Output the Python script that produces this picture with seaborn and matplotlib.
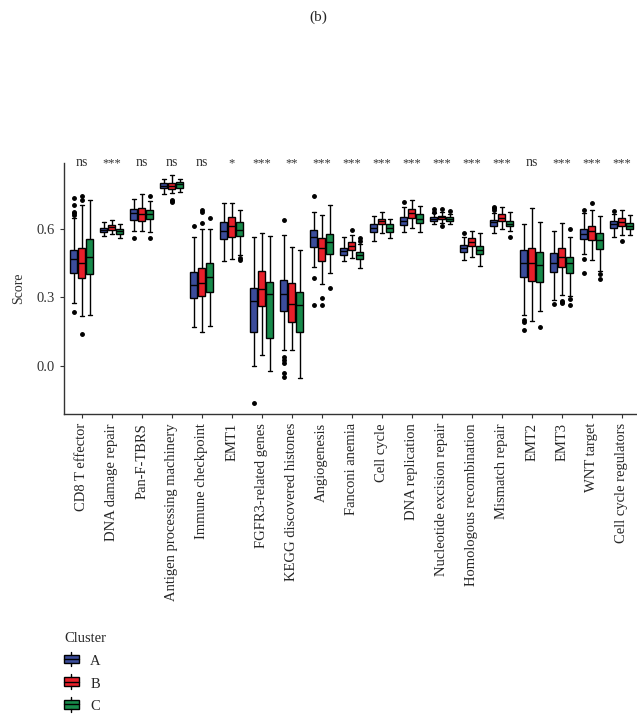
import numpy as np
import pandas as pd
import matplotlib
matplotlib.use("Agg")
import matplotlib.pyplot as plt
import seaborn as sns
from matplotlib.legend_handler import HandlerBase
from matplotlib.patches import Rectangle
from matplotlib.lines import Line2D

categories = ["CD8 T effector", "DNA damage repair", "Pan-F-TBRS",
              "Antigen processing machinery", "Immune checkpoint", "EMT1",
              "FGFR3-related genes", "KEGG discovered histones", "Angiogenesis",
              "Fanconi anemia", "Cell cycle", "DNA replication",
              "Nucleotide excision repair", "Homologous recombination",
              "Mismatch repair", "EMT2", "EMT3", "WNT target",
              "Cell cycle regulators"]
signif = ["ns", "***", "ns", "ns", "ns", "*", "***", "**", "***", "***",
          "***", "***", "***", "***", "***", "ns", "***", "***", "***"]
clusters = ["A", "B", "C"]

# (whisker low, q1, median, q3, whisker high)
a_stats = [(0.276, 0.407, 0.467, 0.507, 0.645), (0.566, 0.584, 0.593, 0.603, 0.628),
           (0.591, 0.638, 0.667, 0.686, 0.730), (0.752, 0.777, 0.788, 0.799, 0.818),
           (0.168, 0.298, 0.353, 0.409, 0.565), (0.460, 0.555, 0.590, 0.628, 0.711),
           (-0.001, 0.149, 0.282, 0.342, 0.562), (0.069, 0.241, 0.314, 0.375, 0.573),
           (0.434, 0.521, 0.565, 0.594, 0.672), (0.460, 0.485, 0.502, 0.517, 0.562),
           (0.546, 0.587, 0.603, 0.619, 0.655), (0.587, 0.616, 0.635, 0.653, 0.696),
           (0.619, 0.635, 0.642, 0.650, 0.667), (0.463, 0.496, 0.514, 0.528, 0.562),
           (0.580, 0.612, 0.628, 0.638, 0.667), (0.222, 0.387, 0.451, 0.507, 0.620),
           (0.288, 0.409, 0.451, 0.492, 0.590), (0.490, 0.555, 0.577, 0.601, 0.667),
           (0.565, 0.604, 0.620, 0.632, 0.665)]
b_stats = [(0.219, 0.385, 0.448, 0.514, 0.705), (0.577, 0.596, 0.606, 0.615, 0.637),
           (0.588, 0.636, 0.664, 0.691, 0.750), (0.758, 0.774, 0.787, 0.800, 0.835),
           (0.146, 0.304, 0.364, 0.426, 0.601), (0.467, 0.565, 0.613, 0.653, 0.711),
           (0.047, 0.263, 0.336, 0.415, 0.580), (0.069, 0.193, 0.269, 0.361, 0.518),
           (0.358, 0.457, 0.517, 0.561, 0.660), (0.470, 0.505, 0.523, 0.540, 0.572),
           (0.582, 0.619, 0.632, 0.644, 0.672), (0.604, 0.648, 0.667, 0.686, 0.726),
           (0.626, 0.641, 0.650, 0.657, 0.674), (0.474, 0.524, 0.543, 0.559, 0.591),
           (0.597, 0.634, 0.648, 0.663, 0.696), (0.197, 0.369, 0.451, 0.514, 0.689),
           (0.310, 0.431, 0.477, 0.514, 0.623), (0.463, 0.550, 0.590, 0.612, 0.682),
           (0.572, 0.612, 0.631, 0.648, 0.682)]
c_stats = [(0.222, 0.401, 0.474, 0.556, 0.726), (0.559, 0.578, 0.588, 0.599, 0.620),
           (0.587, 0.641, 0.663, 0.682, 0.723), (0.759, 0.780, 0.794, 0.803, 0.820),
           (0.174, 0.321, 0.390, 0.448, 0.601), (0.485, 0.570, 0.594, 0.631, 0.682),
           (-0.023, 0.120, 0.314, 0.365, 0.568), (-0.052, 0.146, 0.264, 0.324, 0.507),
           (0.404, 0.488, 0.543, 0.578, 0.704), (0.429, 0.467, 0.483, 0.498, 0.533),
           (0.561, 0.587, 0.604, 0.619, 0.641), (0.587, 0.623, 0.642, 0.663, 0.701),
           (0.619, 0.634, 0.642, 0.650, 0.664), (0.436, 0.489, 0.509, 0.526, 0.580),
           (0.588, 0.610, 0.620, 0.635, 0.672), (0.241, 0.368, 0.441, 0.496, 0.628),
           (0.305, 0.407, 0.448, 0.477, 0.562), (0.415, 0.511, 0.550, 0.580, 0.655),
           (0.572, 0.597, 0.612, 0.626, 0.660)]

# outlying points per category
a_out = [[0.234, 0.660, 0.667, 0.675, 0.704, 0.733], [], [0.561], [],
         [0.612], [], [-0.165], [-0.050, -0.033, 0.010, 0.025, 0.039, 0.638],
         [0.264, 0.384, 0.745], [], [], [0.715], [0.675, 0.685], [0.582],
         [0.682, 0.689, 0.696], [0.156, 0.193, 0.200], [0.269], [0.407, 0.467, 0.682],
         [0.679]]
b_out = [[0.140, 0.726, 0.743], [], [], [0.717, 0.722, 0.727],
         [0.626, 0.675, 0.682], [], [], [], [0.264, 0.295], [0.596], [], [],
         [0.612, 0.685], [], [], [], [0.273, 0.278, 0.285], [0.714], [0.547]]
c_out = [[], [], [0.561, 0.745], [], [0.648], [0.465, 0.472], [], [],
         [0.339], [0.547, 0.558], [], [], [0.679], [], [0.565], [0.171],
         [0.266, 0.290, 0.599], [0.378, 0.400], []]

palette = {"A": "#3B4C9B", "B": "#E8202A", "C": "#178A4A"}


def sample_from(stats, out, m=8):
    # 4m+1 points whose quartiles land exactly on the read values
    lo, q1, med, q3, hi = stats
    low = sorted(v for v in out if v < med)
    high = sorted(v for v in out if v > med)
    left = low + [lo]
    left = left + [q1] * (m + 1 - len(left))
    right = [hi] + high
    right = [q3] * (m + 1 - len(right)) + right
    return left + [med] * (2 * m - 1) + right


rows = []
for cl, st, ou in zip(clusters, [a_stats, b_stats, c_stats], [a_out, b_out, c_out]):
    for cat, s, o in zip(categories, st, ou):
        for v in sample_from(s, o):
            rows.append({"category": cat, "Cluster": cl, "Score": v})
df = pd.DataFrame(rows)


class BoxHandler(HandlerBase):
    # little boxplot glyph for the legend keys
    def create_artists(self, legend, orig, xd, yd, width, height, fontsize, trans):
        fc = orig.get_facecolor()
        cx = xd + width / 2
        box = Rectangle((xd, yd + height * 0.1), width, height * 0.8,
                        facecolor=fc, edgecolor="black", lw=1, transform=trans)
        med = Line2D([xd, xd + width], [yd + height / 2] * 2, color="black",
                     lw=1, transform=trans)
        wt = Line2D([cx, cx], [yd + height * 0.9, yd + height * 1.15], color="black",
                    lw=1, transform=trans)
        wb = Line2D([cx, cx], [yd - height * 0.15, yd + height * 0.1], color="black",
                    lw=1, transform=trans)
        return [box, med, wt, wb]


sns.set_style("white")
plt.rcParams["font.family"] = ["Liberation Serif", "DejaVu Serif"]

fig = plt.figure(figsize=(6.37, 7.18), dpi=100)
ax = fig.add_axes([0.1005, 0.4234, 0.8995, 0.3496])

sns.boxplot(data=df, x="category", y="Score", hue="Cluster", order=categories,
            hue_order=clusters, palette=palette, saturation=1, width=0.8,
            gap=0.08, linecolor="black", linewidth=1, ax=ax,
            flierprops=dict(marker="o", markersize=2.5, markerfacecolor="black",
                            markeredgecolor="black"))

ax.set_xlim(-0.59, 18.51)
ax.set_ylim(-0.2116, 0.888)
ax.set_yticks([0.0, 0.3, 0.6])
ax.set_yticklabels(["0.0", "0.3", "0.6"], fontsize=10.5, color="#333333")
ax.set_xticks(range(len(categories)))
ax.set_xticklabels(categories, rotation=90, fontsize=10.5)
ax.set_xlabel("")
ax.set_ylabel("Score", fontsize=10, color="#333333", labelpad=8)
ax.tick_params(axis="both", length=3, width=0.8, color="#333333", bottom=True, left=True)
for side in ["top", "right"]:
    ax.spines[side].set_visible(False)
for side in ["left", "bottom"]:
    ax.spines[side].set_color("#333333")
    ax.spines[side].set_linewidth(1)

for i, s in enumerate(signif):
    ax.text(i, 0.888, s, ha="center", va="center", fontsize=10 if s == "ns" else 9,
            color="#333333", clip_on=False)

handles, labels = ax.get_legend_handles_labels()
ax.get_legend().remove()
leg = fig.legend(handles, labels, title="Cluster", loc="lower left",
                 bbox_to_anchor=(0.08, -0.012), frameon=False, fontsize=10.5,
                 title_fontsize=10.5, handlelength=1.0, handleheight=0.8,
                 labelspacing=0.62, alignment="left",
                 handler_map={h: BoxHandler() for h in handles})

fig.suptitle("(b)", y=0.985, fontsize=11)
fig.savefig("out.png", dpi=100)
